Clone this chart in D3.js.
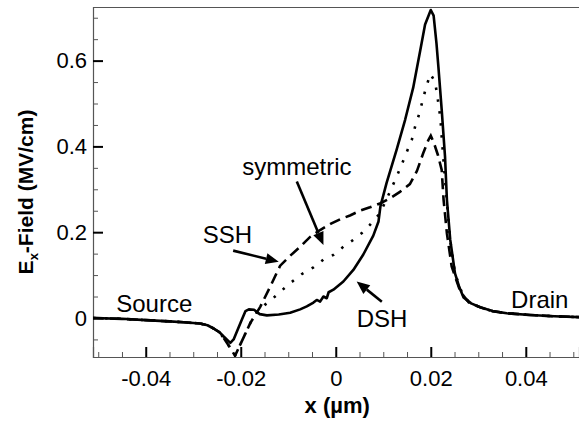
<!DOCTYPE html>
<html><head><meta charset="utf-8">
<script src="https://cdn.jsdelivr.net/npm/d3@7"></script>
<style>
html,body{margin:0;padding:0;background:#fff;}
svg{display:block;font-family:Arial,"Liberation Sans",sans-serif;}
</style></head>
<body><svg id="chart" width="579" height="421"></svg>
<script>
// ---- data (x in µm, Ex in MV/cm) ----
const seriesNames = ["DSH", "SSH", "symmetric"];
const dsh = [
 [-0.0511,0.000],[-0.045,-0.002],[-0.040,-0.005],[-0.035,-0.008],[-0.032,-0.010],[-0.0286,-0.013],
 [-0.0270,-0.017],[-0.0258,-0.024],[-0.0245,-0.033],[-0.0237,-0.042],[-0.0222,-0.058],[-0.0215,-0.050],
 [-0.0200,-0.010],[-0.0190,0.016],[-0.0183,0.020],[-0.0172,0.019],[-0.0160,0.009],[-0.0145,0.006],
 [-0.0120,0.008],[-0.0096,0.012],[-0.0075,0.020],[-0.0061,0.027],[-0.0047,0.036],[-0.0040,0.042],
 [-0.0033,0.038],[-0.0026,0.050],[-0.0019,0.046],[-0.0015,0.060],[-0.0005,0.066],[0.0016,0.085],
 [0.0037,0.112],[0.0058,0.148],[0.0079,0.192],[0.0090,0.225],[0.0094,0.260],[0.0107,0.315],
 [0.0128,0.392],[0.0146,0.462],[0.0163,0.537],[0.0178,0.625],[0.0188,0.684],[0.0200,0.718],
 [0.0206,0.705],[0.0212,0.640],[0.0216,0.586],[0.0223,0.485],[0.0230,0.376],[0.0234,0.275],
 [0.0241,0.182],[0.0251,0.104],[0.0260,0.072],[0.0269,0.048],[0.0285,0.034],[0.0304,0.025],
 [0.0330,0.016],[0.0360,0.011],[0.0409,0.007],[0.0460,0.004],[0.0512,0.002]
];
const ssh = [
 [-0.0511,0.000],[-0.045,-0.002],[-0.040,-0.005],[-0.035,-0.008],[-0.032,-0.010],[-0.0286,-0.013],
 [-0.0270,-0.017],[-0.0258,-0.024],[-0.0245,-0.033],[-0.0237,-0.045],[-0.0222,-0.070],[-0.0212,-0.088],
 [-0.0201,-0.062],[-0.0180,-0.012],[-0.0159,0.026],[-0.0138,0.073],[-0.0117,0.122],[-0.0096,0.145],
 [-0.0075,0.166],[-0.0054,0.189],[-0.0033,0.205],[-0.0010,0.220],[0.0009,0.230],[0.0030,0.239],
 [0.0051,0.250],[0.0072,0.258],[0.0093,0.267],[0.0114,0.279],[0.0135,0.294],[0.0156,0.312],
 [0.0171,0.343],[0.0184,0.384],[0.0195,0.415],[0.0200,0.425],[0.0206,0.410],[0.0215,0.380],
 [0.0223,0.345],[0.0227,0.275],[0.0234,0.197],[0.0244,0.120],[0.0262,0.062],[0.0280,0.036],
 [0.0304,0.025],[0.0330,0.016],[0.0360,0.011],[0.0409,0.007],[0.0460,0.004],[0.0512,0.002]
];
const sym = [
 [-0.0511,0.000],[-0.045,-0.002],[-0.040,-0.005],[-0.035,-0.008],[-0.032,-0.010],[-0.0286,-0.013],
 [-0.0270,-0.017],[-0.0258,-0.024],[-0.0245,-0.033],[-0.0237,-0.045],[-0.0222,-0.070],[-0.0212,-0.088],
 [-0.0201,-0.062],[-0.0180,-0.012],[-0.0165,0.015],[-0.0150,0.030],[-0.0138,0.040],[-0.0117,0.061],
 [-0.0096,0.081],[-0.0072,0.102],[-0.0047,0.118],[-0.0026,0.136],[-0.0005,0.147],[0.0016,0.166],
 [0.0037,0.182],[0.0055,0.198],[0.0072,0.217],[0.0093,0.244],[0.0114,0.294],[0.0128,0.329],
 [0.0139,0.358],[0.0149,0.386],[0.0160,0.415],[0.0167,0.446],[0.0176,0.477],[0.0183,0.508],
 [0.0190,0.537],[0.0199,0.569],[0.0209,0.551],[0.0214,0.516],[0.0218,0.485],[0.0221,0.454],
 [0.0223,0.422],[0.0228,0.350],[0.0234,0.270],[0.0241,0.180],[0.0251,0.104],[0.0269,0.048],
 [0.0285,0.034],[0.0304,0.025],[0.0330,0.016],[0.0360,0.011],[0.0409,0.007],[0.0460,0.004],
 [0.0512,0.002]
];
const xTicks = [-0.04, -0.02, 0, 0.02, 0.04];
const xTickLabels = ["-0.04", "-0.02", "0", "0.02", "0.04"];
const yTicks = [0, 0.2, 0.4, 0.6];
const yTickLabels = ["0", "0.2", "0.4", "0.6"];
const xDomain = [-0.0511, 0.0512];
const yDomain = [-0.091, 0.725];

// ---- layout ----
const L = 93, R = 579, T = 7, B = 357;
const svg = d3.select("#chart");
const x = d3.scaleLinear().domain(xDomain).range([L, R]);
const y = d3.scaleLinear().domain(yDomain).range([B, T]);

svg.append("defs").append("clipPath").attr("id","clip")
  .append("rect").attr("x",L).attr("y",T).attr("width",R-L).attr("height",B-T);

// top frame line
svg.append("line").attr("x1",L).attr("x2",R).attr("y1",T+0.5).attr("y2",T+0.5).attr("stroke","#555").attr("stroke-width",1);

// x axis
const xMinor = d3.range(-0.05, 0.0501, 0.005).filter(v => !xTicks.some(t => Math.abs(t - v) < 1e-6));
const gxm = svg.append("g").attr("transform",`translate(0,${B})`)
  .call(d3.axisBottom(x).tickValues(xMinor).tickSize(-5).tickFormat(""));
gxm.selectAll(".tick line").attr("stroke","#555").attr("stroke-width",1);
gxm.select(".domain").remove();
const gx = svg.append("g").attr("transform",`translate(0,${B})`)
  .call(d3.axisBottom(x).tickValues(xTicks).tickSize(-10).tickPadding(13).tickFormat((d,i) => xTickLabels[i]));
gx.select(".domain").attr("stroke","#555").attr("stroke-width",1.2);
gx.selectAll(".tick line").attr("stroke","#000").attr("stroke-width",2);
gx.selectAll(".tick text").attr("font-size",22).attr("fill","#000").attr("font-family","Arial,'Liberation Sans',sans-serif");

// y axis
const yMinor = d3.range(-0.05, 0.7001, 0.05).filter(v => !yTicks.some(t => Math.abs(t - v) < 1e-6));
const gym = svg.append("g").attr("transform",`translate(${L},0)`)
  .call(d3.axisLeft(y).tickValues(yMinor).tickSize(-5).tickFormat(""));
gym.selectAll(".tick line").attr("stroke","#555").attr("stroke-width",1);
gym.select(".domain").remove();
const gy = svg.append("g").attr("transform",`translate(${L},0)`)
  .call(d3.axisLeft(y).tickValues(yTicks).tickSize(-10).tickPadding(6).tickFormat((d,i) => yTickLabels[i]));
gy.select(".domain").attr("stroke","#555").attr("stroke-width",1.2);
gy.selectAll(".tick line").attr("stroke","#000").attr("stroke-width",2);
gy.selectAll(".tick text").attr("font-size",22).attr("fill","#000").attr("font-family","Arial,'Liberation Sans',sans-serif");

// axis titles
svg.append("text").attr("x", x(0.0003)).attr("y", 413).attr("text-anchor","middle")
  .attr("font-size",22).attr("font-weight","bold").text("x (µm)");
const yt = svg.append("text").attr("transform",`translate(33,${(T+B)/2+10}) rotate(-90)`)
  .attr("text-anchor","middle").attr("font-size",21).attr("font-weight","bold");
yt.append("tspan").text("E");
yt.append("tspan").attr("font-size",13).attr("dy",5).text("x");
yt.append("tspan").attr("dy",-5).text("-Field (MV/cm)");

// curves
const line = d3.line().x(d => x(d[0])).y(d => y(d[1])).curve(d3.curveLinear);
const plot = svg.append("g").attr("clip-path","url(#clip)");
plot.append("path").datum(sym).attr("d",line).attr("fill","none").attr("stroke","#000")
  .attr("stroke-width",2.6).attr("stroke-dasharray","2.5,9.5");
plot.append("path").datum(ssh).attr("d",line).attr("fill","none").attr("stroke","#000")
  .attr("stroke-width",2.6).attr("stroke-dasharray","11,6");
plot.append("path").datum(dsh).attr("d",line).attr("fill","none").attr("stroke","#000")
  .attr("stroke-width",2.6).attr("stroke-linejoin","round");

// annotations
const ann = svg.append("g").attr("font-size",24).attr("fill","#000");
ann.append("text").attr("x",x(-0.0462)).attr("y",y(0.015)).text("Source");
ann.append("text").attr("x",x(0.0369)).attr("y",y(0.023)).text("Drain");
ann.append("text").attr("x",x(-0.0197)).attr("y",y(0.333)).text(seriesNames[2]);
ann.append("text").attr("x",x(-0.0280)).attr("y",y(0.175)).text(seriesNames[1]);
ann.append("text").attr("x",x(0.0044)).attr("y",y(-0.021)).text(seriesNames[0]);

// arrows: [tail, tip] in data coords
const arrows = [
  [[-0.0082,0.318],[-0.0026,0.170]],
  [[-0.0216,0.157],[-0.0120,0.131]],
  [[0.0097,0.038],[0.0044,0.085]]
];
arrows.forEach(a => {
  const x1 = x(a[0][0]), y1 = y(a[0][1]), x2 = x(a[1][0]), y2 = y(a[1][1]);
  const ang = Math.atan2(y2-y1, x2-x1);
  const hl = 13, hw = 5.5;
  const bx = x2 - hl*Math.cos(ang), by = y2 - hl*Math.sin(ang);
  svg.append("line").attr("x1",x1).attr("y1",y1).attr("x2",bx).attr("y2",by)
    .attr("stroke","#000").attr("stroke-width",2.6);
  const px = -Math.sin(ang)*hw, py = Math.cos(ang)*hw;
  svg.append("path").attr("d",`M${x2},${y2}L${bx+px},${by+py}L${bx-px},${by-py}Z`).attr("fill","#000");
});
</script></body></html>
